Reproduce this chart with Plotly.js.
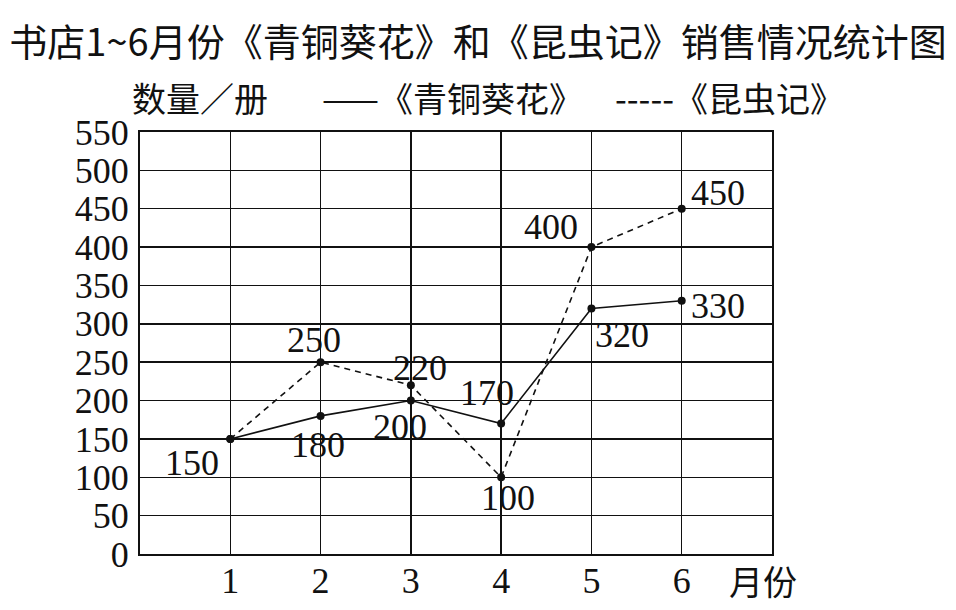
<!DOCTYPE html>
<html>
<head>
<meta charset="utf-8">
<script src="https://cdn.plot.ly/plotly-3.0.1.min.js"></script>
<style>
  html, body { margin: 0; padding: 0; background: #fff; }
  #chart { width: 956px; height: 610px; }
</style>
</head>
<body>
<div id="chart"></div>
<script>
/* 书店1~6月份销售情况 — two-series line chart, textbook style:
 * black grid, serif numerals, solid vs dashed series. */

const INK = "#111111";
const SERIF = '"Liberation Serif", "DejaVu Serif", serif';
const CJK = '"Noto Sans CJK SC", "Noto Sans", sans-serif';

// data
const MONTHS = [1, 2, 3, 4, 5, 6];
const QINGTONG = [150, 180, 200, 170, 320, 330];   // 《青铜葵花》 solid
const KUNCHONG = [150, 250, 220, 100, 400, 450];   // 《昆虫记》 dashed
const Y_TICKS = [0, 50, 100, 150, 200, 250, 300, 350, 400, 450, 500, 550];

// label offsets in px [xshift, yshift]; null = no label (shared point)
const QINGTONG_SHIFT = [[-38, -24], [-3, -29], [-11, -26], [-14, 31], [31, -27], [36, -5]];
const KUNCHONG_SHIFT = [null, [-7, 22], [9, 17], [7, -21], [-40, 20], [36, 16]];

function valueLabels(xs, ys, shifts) {
  const out = [];
  xs.forEach((x, i) => {
    if (!shifts[i]) return;
    out.push({
      x, y: ys[i], xref: "x", yref: "y",
      text: String(ys[i]), showarrow: false,
      xshift: shifts[i][0], yshift: shifts[i][1],
      font: { family: SERIF, size: 36, color: INK },
    });
  });
  return out;
}

const traces = [
  {
    x: MONTHS, y: QINGTONG, name: "《青铜葵花》",
    mode: "lines+markers",
    line: { color: INK, width: 1.6 },
    marker: { color: INK, size: 8 },
  },
  {
    x: MONTHS, y: KUNCHONG, name: "《昆虫记》",
    mode: "lines+markers",
    line: { color: INK, width: 1.6, dash: "6px,5px" },
    marker: { color: INK, size: 8 },
  },
];

const header = (text, x, anchor) => ({
  xref: "paper", yref: "paper", x, y: 1.081,
  xanchor: anchor, yanchor: "middle",
  text, showarrow: false,
  font: { family: CJK, size: 34, color: INK },
});

const annotations = [
  header("数量／册", 0.095, "center"),
  header("——《青铜葵花》", 0.285, "left"),
  header("-----《昆虫记》", 0.748, "left"),
  {
    xref: "paper", yref: "paper", x: 0.986, y: -0.062,
    xanchor: "center", yanchor: "middle",
    text: "月份", showarrow: false,
    font: { family: CJK, size: 34, color: INK },
  },
  ...valueLabels(MONTHS, QINGTONG, QINGTONG_SHIFT),
  ...valueLabels(MONTHS, KUNCHONG, KUNCHONG_SHIFT),
];

const axisBase = {
  showline: true, mirror: true, linecolor: INK, linewidth: 2,
  showgrid: true, gridcolor: INK, gridwidth: 1.5,
  zeroline: false, ticks: "", ticklen: 0,
  tickfont: { family: SERIF, size: 36, color: INK },
  fixedrange: true,
};

const layout = {
  width: 956, height: 610,
  paper_bgcolor: "#ffffff", plot_bgcolor: "#ffffff",
  margin: { l: 140, r: 184, t: 132, b: 56 },
  showlegend: false,
  title: {
    text: "书店1~6月份《青铜葵花》和《昆虫记》销售情况统计图",
    font: { family: CJK, size: 38, color: INK },
    xref: "container", yref: "container", x: 0.5, y: 1 - 43 / 610,
    xanchor: "center", yanchor: "middle",
  },
  xaxis: { ...axisBase, range: [0, 7], tickvals: MONTHS, ticklabelstandoff: -6 },
  yaxis: { ...axisBase, range: [0, 550], tickvals: Y_TICKS, ticklabelstandoff: 2 },
  annotations,
};

Plotly.newPlot("chart", traces, layout, { displayModeBar: false, staticPlot: true });
</script>
</body>
</html>
